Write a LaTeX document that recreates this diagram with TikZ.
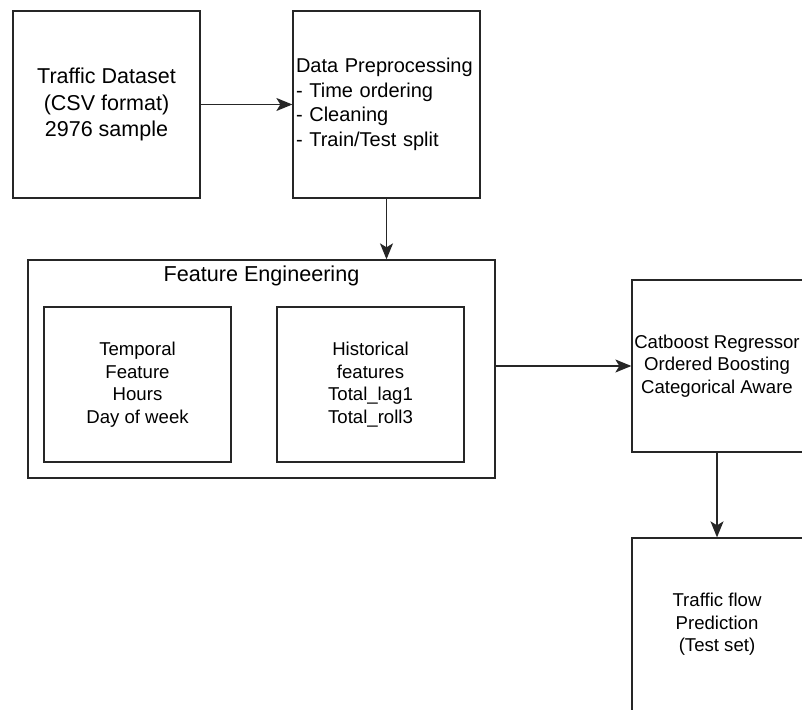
\documentclass[tikz,border=0pt]{standalone}
\usepackage{fontspec}
\setmainfont{Liberation Sans}
\usetikzlibrary{arrows.meta}
\tikzset{
  box/.style={draw=black!85, line width=1.3pt, inner sep=0pt, align=center, font=\fontsize{18.6}{22.5}\selectfont},
  arr/.style={draw=black!85, line width=1.3pt, -{Stealth[length=16pt,width=13pt,inset=4pt]}}
}
\begin{document}
\begin{tikzpicture}[x=1pt,y=1pt]
\useasboundingbox (0,0) rectangle (802,709);
\clip (0,0) rectangle (802,709);
\fill[white] (0,0) rectangle (802,709);
\node[box, minimum width=187pt, minimum height=187pt, font=\fontsize{21.5}{26.5}\selectfont] (ds) at (106.5,604.5) {Traffic Dataset\\(CSV format)\\2976 sample};
\node[box, minimum width=187pt, minimum height=187pt, text width=181pt, inner xsep=3pt, align=left, font=\fontsize{20}{24.5}\selectfont] (pre) at (386.5,604.5) {Data Preprocessing\\- Time ordering\\- Cleaning\\- Train/Test split};
\node[box, minimum width=467pt, minimum height=218pt] (fe) at (261.5,340) {};
\node[font=\fontsize{21.6}{26}\selectfont, inner sep=0pt] (fet) at (261.5,433) {Feature Engineering};
\node[box, minimum width=187pt, minimum height=155pt] (tf) at (137.5,324.5) {Temporal\\Feature\\Hours\\Day of week};
\node[box, minimum width=187pt, minimum height=155pt] (hf) at (370.5,324.5) {Historical\\features\\Total\_lag1\\Total\_roll3};
\node[box, minimum width=176pt, minimum height=172pt] (cat) at (720,343) {};
\node[font=\fontsize{18.6}{22.5}\selectfont, align=center, inner sep=0pt] (catt) at (717,343) {Catboost Regressor\\Ordered Boosting\\Categorical Aware};
\node[box, minimum width=176pt, minimum height=173pt] (pred) at (720,84.5) {};
\node[font=\fontsize{18.6}{22.5}\selectfont, align=center, inner sep=0pt] (predt) at (717,84.5) {Traffic flow\\Prediction\\(Test set)};
\draw[arr] (ds.east) -- (pre.west);
\draw[arr] (pre.south) -- (pre.south |- fe.north);
\draw[arr] (fe.east |- cat.west) -- (cat.west);
\draw[arr] (catt |- cat.south) -- (catt |- pred.north);
\end{tikzpicture}
\end{document}
